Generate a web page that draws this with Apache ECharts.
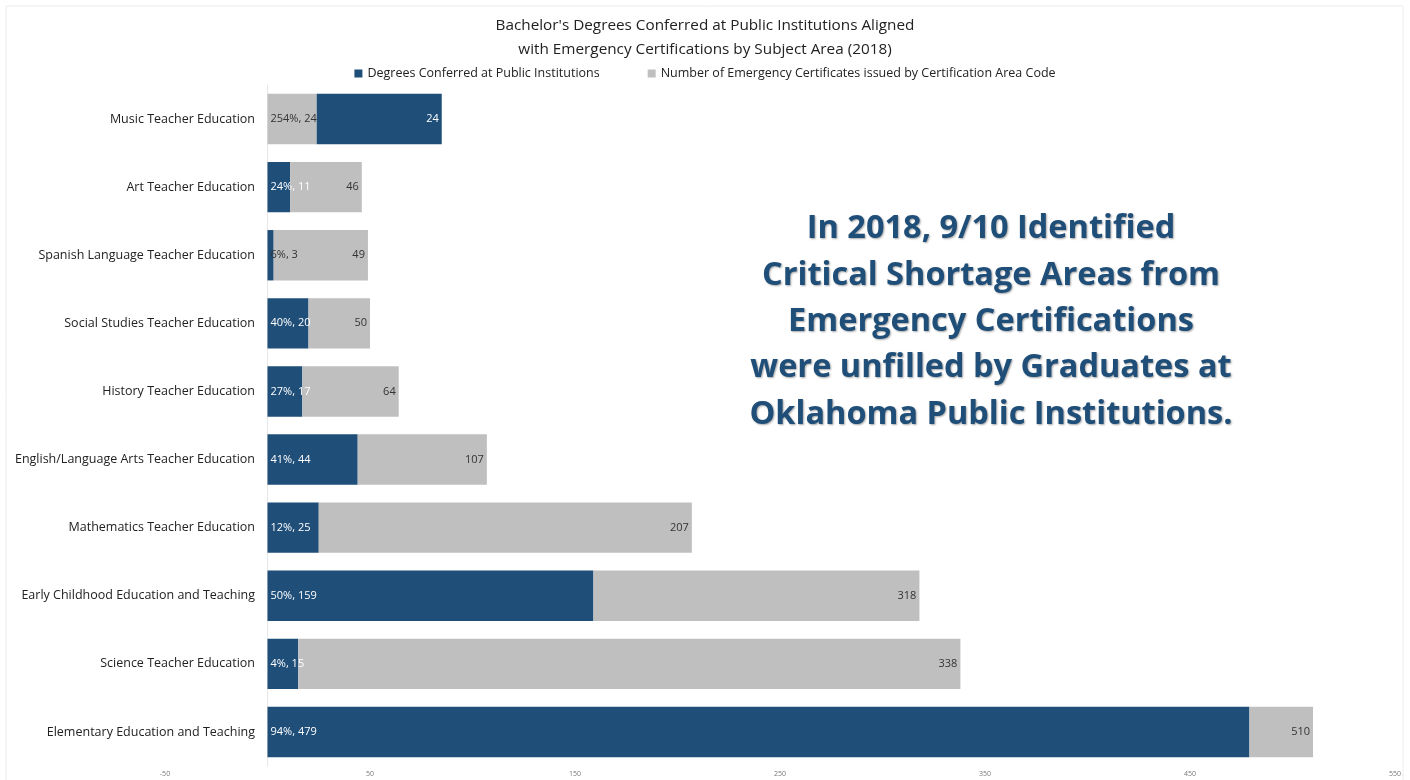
<!DOCTYPE html>
<html>
<head>
<meta charset="utf-8">
<title>Bachelor's Degrees vs Emergency Certifications</title>
<script src="https://cdn.jsdelivr.net/npm/echarts@6/dist/echarts.min.js"></script>
<style>
  html, body { margin: 0; padding: 0; background: #fff; }
  #chart { width: 1410px; height: 780px; }
</style>
</head>
<body>
<div id="chart"></div>
<script>
  // subject areas, top to bottom
  const categories = [
    'Music Teacher Education',
    'Art Teacher Education',
    'Spanish Language Teacher Education',
    'Social Studies Teacher Education',
    'History Teacher Education',
    'English/Language Arts Teacher Education',
    'Mathematics Teacher Education',
    'Early Childhood Education and Teaching',
    'Science Teacher Education',
    'Elementary Education and Teaching'
  ];
  const degrees = [61, 11, 3, 20, 17, 44, 25, 159, 15, 479];
  const certificates = [24, 46, 49, 50, 64, 107, 207, 318, 338, 510];
  const pctLabels = ['254%, 24', '24%, 11', '6%, 3', '40%, 20', '27%, 17',
    '41%, 44', '12%, 25', '50%, 159', '4%, 15', '94%, 479'];
  const endLabels = ['24', '46', '49', '50', '64', '107', '207', '318', '338', '510'];
  const xTicks = [-50, 50, 150, 250, 350, 450, 550];

  const BLUE = '#1f4e79';
  const GREY = '#bfbfbf';
  const FONT = '"Open Sans", "Liberation Sans", sans-serif';

  const GRID_LEFT = 165, GRID_RIGHT = 15;
  // pixel distance from grid's left edge to x = 0, so the category axis sits on zero
  const zeroOffset = (0 - xTicks[0]) / (xTicks[xTicks.length - 1] - xTicks[0]) * (1410 - GRID_LEFT - GRID_RIGHT);

  // stacked pieces: normally degrees then the remaining certificates;
  // where degrees exceed certificates, certificates come first and degrees follow
  const firstPart = categories.map((c, i) => {
    const degFirst = degrees[i] <= certificates[i];
    const v = degFirst ? degrees[i] : certificates[i];
    return {
      value: v,
      itemStyle: { color: degFirst ? BLUE : GREY },
      label: { color: (degFirst && v > 5) ? '#ffffff' : '#333333' }
    };
  });
  const secondPart = categories.map((c, i) => {
    const degFirst = degrees[i] <= certificates[i];
    return {
      value: degFirst ? certificates[i] - degrees[i] : degrees[i],
      itemStyle: { color: degFirst ? GREY : BLUE },
      label: { color: degFirst ? '#333333' : '#ffffff' }
    };
  });

  const chart = echarts.init(document.getElementById('chart'));
  chart.setOption({
    backgroundColor: '#ffffff',
    animation: false,
    textStyle: { fontFamily: FONT },
    title: {
      text: "Bachelor's Degrees Conferred at Public Institutions Aligned\nwith Emergency Certifications by Subject Area (2018)",
      left: 'center',
      top: 9,
      textStyle: { fontSize: 15.3, fontWeight: 'normal', color: '#222', lineHeight: 24, fontFamily: FONT }
    },
    legend: {
      top: 62,
      left: 'center',
      itemWidth: 8,
      itemHeight: 8,
      itemGap: 48,
      icon: 'rect',
      textStyle: { fontSize: 12.5, color: '#222', fontFamily: FONT },
      data: [
        { name: 'Degrees Conferred at Public Institutions', itemStyle: { color: BLUE } },
        { name: 'Number of Emergency Certificates issued by Certification Area Code', itemStyle: { color: GREY } }
      ]
    },
    grid: { left: GRID_LEFT, right: GRID_RIGHT, top: 85, bottom: 14, containLabel: false, outerBoundsMode: 'none' },
    xAxis: {
      type: 'value',
      min: xTicks[0],
      max: xTicks[xTicks.length - 1],
      interval: 100,
      axisLine: { show: false },
      axisTick: { show: false },
      splitLine: { show: false },
      axisLabel: { fontSize: 7, color: '#777', margin: 4, showMinLabel: true, showMaxLabel: true }
    },
    yAxis: {
      type: 'category',
      data: categories,
      inverse: true,
      offset: -zeroOffset,
      axisLine: { show: true, onZero: false, lineStyle: { color: '#e6e6e6', width: 1 } },
      axisTick: { show: false },
      axisLabel: { fontSize: 12.5, color: '#222', margin: 12.5, fontFamily: FONT }
    },
    series: [
      {
        name: 'Degrees Conferred at Public Institutions',
        type: 'bar',
        stack: 'total',
        barCategoryGap: '26%',
        itemStyle: { color: BLUE },
        label: {
          show: true,
          position: 'insideLeft',
          distance: 3,
          fontSize: 11,
          fontFamily: FONT,
          formatter: p => pctLabels[p.dataIndex]
        },
        data: firstPart
      },
      {
        name: 'Number of Emergency Certificates issued by Certification Area Code',
        type: 'bar',
        stack: 'total',
        barCategoryGap: '26%',
        itemStyle: { color: GREY },
        label: {
          show: true,
          position: 'insideRight',
          distance: 3,
          fontSize: 11,
          fontFamily: FONT,
          formatter: p => endLabels[p.dataIndex]
        },
        data: secondPart
      }
    ],
    graphic: [
      {
        type: 'rect',
        shape: { x: 6, y: 6, width: 1397, height: 790 },
        style: { fill: 'none', stroke: '#ececec', lineWidth: 1 },
        silent: true
      },
      {
        type: 'text',
        x: 991,
        y: 206,
        style: {
          text: 'In 2018, 9/10 Identified\nCritical Shortage Areas from\nEmergency Certifications\nwere unfilled by Graduates at\nOklahoma Public Institutions.',
          align: 'center',
          verticalAlign: 'top',
          fill: BLUE,
          font: 'bold 32.5px ' + FONT,
          lineHeight: 46.3,
          textShadowColor: 'rgba(0,0,0,0.35)',
          textShadowBlur: 2,
          textShadowOffsetX: 1,
          textShadowOffsetY: 1
        }
      }
    ]
  });
</script>
</body>
</html>
